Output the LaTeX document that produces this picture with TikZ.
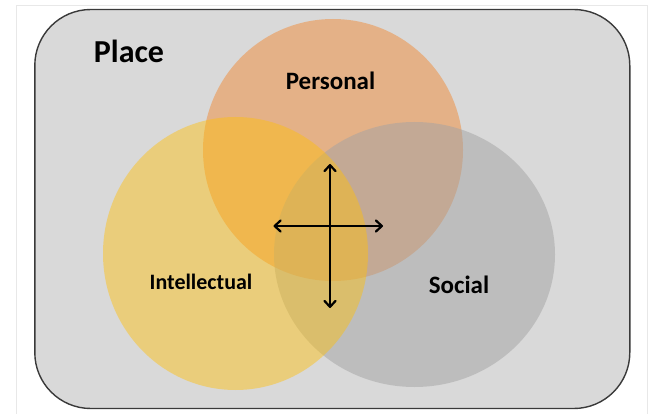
\documentclass[tikz,border=0pt]{standalone}
\usepackage{fontspec}
\setmainfont{Carlito}
\usetikzlibrary{shapes.geometric,arrows.meta}
\definecolor{framegray}{HTML}{D9D9D9}
\definecolor{frameline}{HTML}{3A3A3A}
\definecolor{faint}{HTML}{E8E8E8}
\definecolor{persorange}{RGB}{240,138,55}
\definecolor{intgold}{RGB}{255,192,10}
\definecolor{socgray}{RGB}{163,163,163}
\tikzset{
  blob/.style={ellipse, inner sep=0pt, draw=none},
  lbl/.style={font=\bfseries, text=black, inner sep=0pt},
  tip/.tip={Straight Barb[length=6pt, width=11pt, line width=2.2pt, round]},
  dbl/.style={line width=2.3pt, tip-tip},
}
\begin{document}
\begin{tikzpicture}[x=1pt,y=-1pt]
\useasboundingbox (0,0) rectangle (650,414);
\fill[white] (0,0) rectangle (650,414);
% faint screenshot edges
\draw[faint, line width=0.8pt] (16.5,414) -- (16.5,5) -- (647.5,5) -- (647.5,414);
% Place frame
\node[draw=frameline, fill=framegray, line width=1.4pt, rounded corners=56pt,
      minimum width=595pt, minimum height=399pt, inner sep=0pt] (place) at (332.3,209) {};
% circles
\node[blob, fill=persorange, fill opacity=0.5, minimum width=260pt, minimum height=262pt] (pers) at (333,150) {};
\node[blob, fill=socgray, fill opacity=0.5, minimum width=281pt, minimum height=265pt] (soc) at (414.5,254.5) {};
\node[blob, fill=intgold, fill opacity=0.45, minimum width=265pt, minimum height=273pt] (int) at (235.5,253.5) {};
% labels
\node[lbl, font=\fontsize{32}{34}\selectfont\bfseries] (placelbl) at (129,51) {Place};
\node[lbl, font=\fontsize{25}{27}\selectfont\bfseries] (perslbl) at (330.5,80.5) {Personal};
\node[lbl, font=\fontsize{22}{24}\selectfont\bfseries] (intlbl) at (201,282) {Intellectual};
\node[lbl, font=\fontsize{25}{27}\selectfont\bfseries] (soclbl) at (459,285) {Social};
% arrows
\coordinate (vt) at (330,164);
\coordinate (vb) at (330,308);
\coordinate (hl) at (273.5,226);
\coordinate (hr) at (383,226);
\draw[dbl] (vt) -- (vb);
\draw[dbl] (hl) -- (hr);
\end{tikzpicture}
\end{document}
